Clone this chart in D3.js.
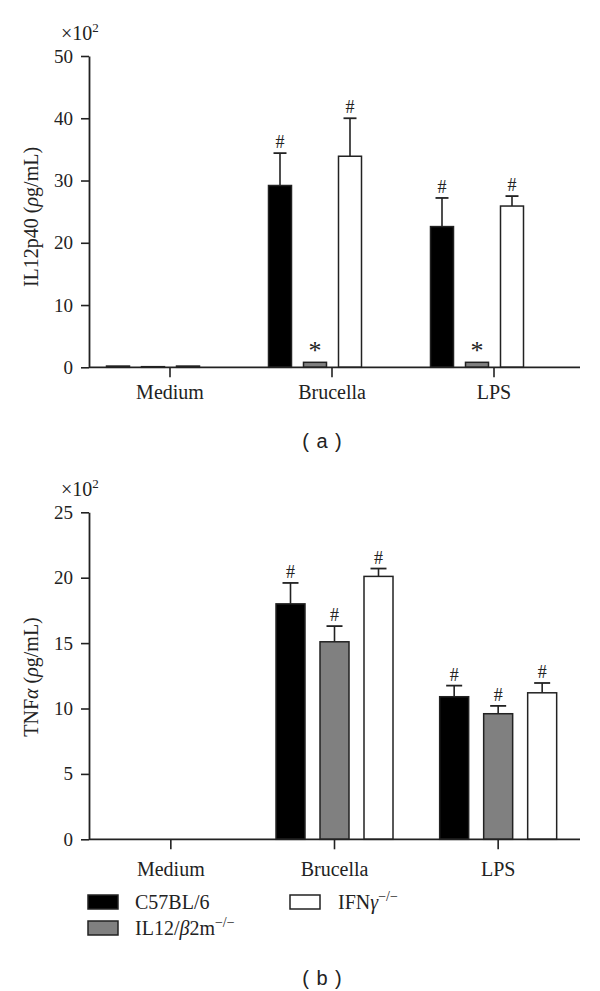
<!DOCTYPE html>
<html>
<head>
<meta charset="utf-8">
<script src="https://cdn.jsdelivr.net/npm/d3@7"></script>
<style>
  body { margin: 0; background: #fff; }
  text { font-family: "Liberation Serif", "Times New Roman", serif; fill: #222; }
</style>
</head>
<body>
<div id="chart"></div>
<script>
// categories and strains
var categories = ["Medium", "Brucella", "LPS"];
var strains = ["C57BL/6", "IL12/β2m", "IFNγ"];

// panel (a): IL12p40, x10^2 pg/mL
var il12C57 = [0.2, 29.2, 22.6];
var il12C57Err = [0, 5.2, 4.6];
var il12Ko = [0.1, 0.8, 0.8];
var il12KoErr = [0, 0, 0];
var il12Ifn = [0.2, 33.9, 25.9];
var il12IfnErr = [0, 6.1, 1.6];
var il12Marks = [["", "", ""], ["#", "*", "#"], ["#", "*", "#"]];
var il12Ticks = [0, 10, 20, 30, 40, 50];

// panel (b): TNFalpha, x10^2 pg/mL
var tnfC57 = [0, 18.0, 10.9];
var tnfC57Err = [0, 1.6, 0.85];
var tnfKo = [0, 15.1, 9.6];
var tnfKoErr = [0, 1.2, 0.6];
var tnfIfn = [0, 20.1, 11.2];
var tnfIfnErr = [0, 0.6, 0.75];
var tnfMarks = [["", "", ""], ["#", "#", "#"], ["#", "#", "#"]];
var tnfTicks = [0, 5, 10, 15, 20, 25];

var fills = ["#000", "#808080", "#fff"];

var svg = d3.select("#chart").append("svg")
    .attr("width", 600)
    .attr("height", 991);

function drawPanel(p) {
    var g = svg.append("g");

    var x = d3.scaleBand().domain(categories).range(p.xRange).padding(0);
    var y = d3.scaleLinear().domain([0, p.yMax]).range([p.y0, p.yTop]);

    var series = [
        {values: p.c57, err: p.c57Err},
        {values: p.ko, err: p.koErr},
        {values: p.ifn, err: p.ifnErr}
    ];

    var bars = [];
    categories.forEach(function(c, ci) {
        series.forEach(function(s, si) {
            bars.push({cat: c, ci: ci, si: si, v: s.values[ci], e: s.err[ci], mark: p.marks[ci][si]});
        });
    });

    function barX(d) {
        return x(d.cat) + x.bandwidth() / 2 + p.groupShift + (d.si - 1) * p.pitch - p.barW / 2;
    }

    // error bars (upper only)
    var eb = g.selectAll(".err").data(bars.filter(function(d) { return d.e > 0; }))
        .enter().append("g").attr("class", "err");
    eb.append("line")
        .attr("x1", function(d) { return barX(d) + p.barW / 2; })
        .attr("x2", function(d) { return barX(d) + p.barW / 2; })
        .attr("y1", function(d) { return y(d.v); })
        .attr("y2", function(d) { return y(d.v + d.e); })
        .attr("stroke", "#222").attr("stroke-width", 1.6);
    eb.append("line")
        .attr("x1", function(d) { return barX(d) + p.barW / 2 - p.capW / 2; })
        .attr("x2", function(d) { return barX(d) + p.barW / 2 + p.capW / 2; })
        .attr("y1", function(d) { return y(d.v + d.e); })
        .attr("y2", function(d) { return y(d.v + d.e); })
        .attr("stroke", "#222").attr("stroke-width", 1.8);

    g.selectAll(".bar").data(bars.filter(function(d) { return d.v > 0; }))
        .enter().append("rect")
        .attr("class", "bar")
        .attr("x", barX)
        .attr("y", function(d) { return y(d.v); })
        .attr("width", p.barW)
        .attr("height", function(d) { return y(0) - y(d.v); })
        .attr("fill", function(d) { return fills[d.si]; })
        .attr("stroke", "#222")
        .attr("stroke-width", 1.5);

    // significance marks
    g.selectAll(".mark").data(bars.filter(function(d) { return d.mark !== ""; }))
        .enter().append("text")
        .attr("class", "mark")
        .attr("x", function(d) { return barX(d) + p.barW / 2; })
        .attr("y", function(d) {
            return d.mark === "*" ? y(d.v + d.e) - 3 : y(d.v + d.e) - 5;
        })
        .attr("text-anchor", "middle")
        .style("font-size", function(d) { return d.mark === "*" ? "26px" : "18px"; })
        .text(function(d) { return d.mark; });

    // y axis
    var ya = g.append("g")
        .attr("transform", "translate(" + p.xRange[0] + ",0)")
        .call(d3.axisLeft(y).tickValues(p.ticks).tickSize(8).tickPadding(8).tickSizeOuter(0));
    ya.selectAll("text").style("font-size", "19px").attr("fill", "#222");
    ya.selectAll("line").attr("stroke", "#222").attr("stroke-width", 1.6);
    ya.select(".domain").attr("stroke", "#222").attr("stroke-width", 1.8);

    // x axis
    var xa = g.append("g")
        .attr("transform", "translate(0," + y(0) + ")")
        .call(d3.axisBottom(x).tickSize(10).tickPadding(p.xPad).tickSizeOuter(0));
    xa.select(".domain").remove();
    xa.selectAll("text").style("font-size", "20px").attr("fill", "#222");
    xa.selectAll("line").attr("stroke", "#222").attr("stroke-width", 1.6);
    g.append("line")
        .attr("x1", p.xRange[0]).attr("x2", 580)
        .attr("y1", y(0)).attr("y2", y(0))
        .attr("stroke", "#222").attr("stroke-width", 1.8);

    // x10^2 multiplier
    var mult = g.append("text")
        .attr("x", 61).attr("y", p.yTop - 16)
        .style("font-size", "20px");
    mult.append("tspan").text("×10");
    mult.append("tspan").attr("dy", -8).style("font-size", "13px").text("2");

    // y label
    var yl = g.append("text")
        .attr("transform", "translate(38," + p.labelY + ") rotate(-90)")
        .attr("text-anchor", "middle")
        .style("font-size", "20px");
    yl.append("tspan").text(p.labelPre);
    if (p.labelGreek) yl.append("tspan").style("font-style", "italic").text(p.labelGreek);
    yl.append("tspan").text(" (");
    yl.append("tspan").style("font-style", "italic").text("ρ");
    yl.append("tspan").text("g/mL)");

    // panel caption
    svg.append("text")
        .attr("x", 322).attr("y", p.captionY)
        .attr("text-anchor", "middle")
        .style("font-family", "'Liberation Sans', Arial, sans-serif")
        .style("font-size", "20px")
        .style("word-spacing", "2px")
        .text(p.caption);
}

drawPanel({
    c57: il12C57, c57Err: il12C57Err,
    ko: il12Ko, koErr: il12KoErr,
    ifn: il12Ifn, ifnErr: il12IfnErr,
    marks: il12Marks, ticks: il12Ticks, yMax: 50,
    y0: 367.3, yTop: 56,
    xRange: [89, 575], barW: 23, pitch: 35, groupShift: -17, capW: 13, xPad: 8,
    labelPre: "IL12p40", labelGreek: "", labelY: 217,
    caption: "( a )", captionY: 448
});

drawPanel({
    c57: tnfC57, c57Err: tnfC57Err,
    ko: tnfKo, koErr: tnfKoErr,
    ifn: tnfIfn, ifnErr: tnfIfnErr,
    marks: tnfMarks, ticks: tnfTicks, yMax: 25,
    y0: 839.3, yTop: 512.3,
    xRange: [89, 580], barW: 29, pitch: 44, groupShift: 0, capW: 16, xPad: 13,
    labelPre: "TNF", labelGreek: "α", labelY: 677,
    caption: "( b )", captionY: 985
});

// legend
var legendItems = [
    {x: 88, y: 895, si: 0},
    {x: 88, y: 921, si: 1},
    {x: 290, y: 895, si: 2}
];
var lg = svg.append("g");
lg.selectAll("rect").data(legendItems).enter().append("rect")
    .attr("x", function(d) { return d.x; })
    .attr("y", function(d) { return d.y; })
    .attr("width", 30).attr("height", 14)
    .attr("fill", function(d) { return fills[d.si]; })
    .attr("stroke", "#222").attr("stroke-width", 1.5);

var t0 = lg.append("text").attr("x", 135).attr("y", 909).style("font-size", "20px");
t0.text(strains[0]);

var t1 = lg.append("text").attr("x", 135).attr("y", 935).style("font-size", "20px");
t1.append("tspan").text("IL12/");
t1.append("tspan").style("font-style", "italic").text("β");
t1.append("tspan").text("2m");
t1.append("tspan").attr("dy", -8).style("font-size", "14px").text("−/−");

var t2 = lg.append("text").attr("x", 338).attr("y", 909).style("font-size", "20px");
t2.append("tspan").text("IFN");
t2.append("tspan").style("font-style", "italic").text("γ");
t2.append("tspan").attr("dy", -8).style("font-size", "14px").text("−/−");
</script>
</body>
</html>
